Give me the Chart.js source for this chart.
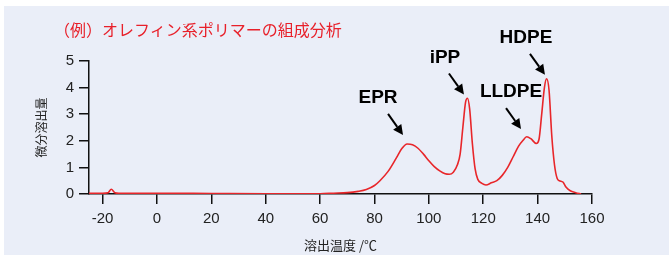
<!DOCTYPE html>
<html>
<head>
<meta charset="utf-8">
<script src="https://cdn.jsdelivr.net/npm/chart.js@4.4.1/dist/chart.umd.min.js"></script>
<style>
  html, body { margin: 0; padding: 0; background: #fff; }
  #wrap { position: relative; width: 669px; height: 255px; }
  #panel { position: absolute; left: 4px; top: 6px; right: 0; bottom: 0; background: #eaeef8; }
  #chart { position: absolute; left: 0; top: 0; }
  #title {
    position: absolute; left: 54px; top: 20px;
    font: 16px "Noto Sans CJK JP", sans-serif; line-height: 18px;
    color: #e8202a; white-space: nowrap;
  }
</style>
</head>
<body>
<div id="wrap">
  <div id="panel"></div>
  <canvas id="chart" width="669" height="255"></canvas>
  <div id="title">（例）オレフィン系ポリマーの組成分析</div>
</div>
<script>
// Elution temperature (°C) and differential elution amount
var tempC = [-25, -20, -18, -16.8, -15.5, -14, 0, 20, 40, 60, 65, 70, 74, 77, 80, 82, 85, 88, 90, 92,
  94, 96, 98, 100, 102, 104, 106, 107.5, 109, 110.5, 111.5, 112.5, 113.5, 114.2, 115, 116, 117, 118,
  119.5, 121, 123, 125, 127, 129, 131, 133, 134.5, 136, 137.5, 139.5, 140.5, 141.5, 142.5, 143.3,
  144.2, 145.2, 146.2, 147.2, 148, 149.3, 150.5, 152, 154, 156];
var elution = [0.03, 0.03, 0.05, 0.18, 0.05, 0.03, 0.03, 0.02, 0.01, 0.01, 0.03, 0.05, 0.1, 0.17, 0.32, 0.5, 0.85, 1.35, 1.7, 1.88,
  1.85, 1.72, 1.5, 1.25, 1.03, 0.87, 0.76, 0.74, 0.82, 1.1, 1.5, 2.5, 3.45, 3.6, 3.2, 1.9, 0.95, 0.55,
  0.4, 0.34, 0.42, 0.5, 0.7, 1.0, 1.4, 1.8, 2.0, 2.15, 2.08, 1.9, 2.05, 3.0, 4.0, 4.33,
  3.9, 2.2, 1.1, 0.58, 0.5, 0.45, 0.25, 0.12, 0.05, 0.0];

var xTickValues = [-20, 0, 20, 40, 60, 80, 100, 120, 140, 160];
var yTickValues = [0, 1, 2, 3, 4, 5];

// peak labels: text, arrow tip (data units)
var peakLabels = ['EPR', 'iPP', 'HDPE', 'LLDPE'];
var peakTipT = [90.5, 112.9, 142.7, 133.9];
var peakTipV = [2.22, 3.74, 4.48, 2.44];

var points = tempC.map(function (t, i) { return { x: t, y: elution[i] }; });

var annotate = {
  id: 'peakArrows',
  afterDatasetsDraw: function (chart) {
    var c = chart.ctx;
    var xs = chart.scales.x, ys = chart.scales.y;
    c.save();
    c.fillStyle = '#000';
    c.strokeStyle = '#000';
    c.lineWidth = 2;
    c.font = 'bold 19px "Liberation Sans", Arial, sans-serif';
    c.textAlign = 'center';
    c.textBaseline = 'middle';
    for (var i = 0; i < peakLabels.length; i++) {
      var tx = xs.getPixelForValue(peakTipT[i]);
      var ty = ys.getPixelForValue(peakTipV[i]);
      var sx = tx - 15, sy = ty - 21;
      var ang = Math.atan2(ty - sy, tx - sx);
      var hl = 10, hw = 5;
      var bx = tx - hl * Math.cos(ang), by = ty - hl * Math.sin(ang);
      c.beginPath();
      c.moveTo(sx, sy);
      c.lineTo(bx, by);
      c.stroke();
      c.beginPath();
      c.moveTo(tx, ty);
      c.lineTo(bx + hw * Math.sin(ang), by - hw * Math.cos(ang));
      c.lineTo(bx - hw * Math.sin(ang), by + hw * Math.cos(ang));
      c.closePath();
      c.fill();
      var off = i === 0 ? -25 : (i === 3 ? -10 : -19);
      c.fillText(peakLabels[i], tx + off, ty - 37);
    }
    c.restore();
  }
};

var tickFont = { family: '"Liberation Sans", Arial, sans-serif', size: 15 };
var jpFont = { family: '"Noto Sans CJK JP", sans-serif', size: 13 };

new Chart(document.getElementById('chart'), {
  type: 'line',
  data: {
    datasets: [{
      data: points,
      borderColor: '#e8262a',
      borderWidth: 1.6,
      pointRadius: 0,
      fill: false,
      cubicInterpolationMode: 'monotone'
    }]
  },
  options: {
    responsive: false,
    devicePixelRatio: 1,
    animation: false,
    layout: { padding: { left: 0, top: 61, right: 77, bottom: 0 } },
    plugins: { legend: { display: false }, tooltip: { enabled: false } },
    scales: {
      x: {
        type: 'linear',
        min: -25,
        max: 160,
        afterBuildTicks: function (s) { s.ticks = xTickValues.map(function (v) { return { value: v }; }); },
        afterFit: function (s) { s.height = 61; },
        grid: { drawOnChartArea: false, drawTicks: true, tickLength: 10, color: '#111', lineWidth: 1.5 },
        border: { display: true, color: '#111', width: 1.5 },
        ticks: { color: '#222', font: tickFont, padding: 6, maxRotation: 0 },
        title: { display: true, text: '溶出温度 /℃', color: '#222', font: jpFont, padding: { top: 0, bottom: 2 } }
      },
      y: {
        min: 0,
        max: 5,
        afterBuildTicks: function (s) { s.ticks = yTickValues.map(function (v) { return { value: v }; }); },
        afterFit: function (s) { s.width = 89; },
        grid: { drawOnChartArea: false, drawTicks: true, tickLength: 10, color: '#111', lineWidth: 1.5 },
        border: { display: true, color: '#111', width: 1.5 },
        ticks: { color: '#222', font: tickFont, padding: 5 },
        title: { display: true, text: '微分溶出量', color: '#222', font: { family: '"Noto Sans CJK JP", sans-serif', size: 12 }, padding: { top: 34, bottom: 0 } }
      }
    }
  },
  plugins: [annotate]
});
</script>
</body>
</html>
